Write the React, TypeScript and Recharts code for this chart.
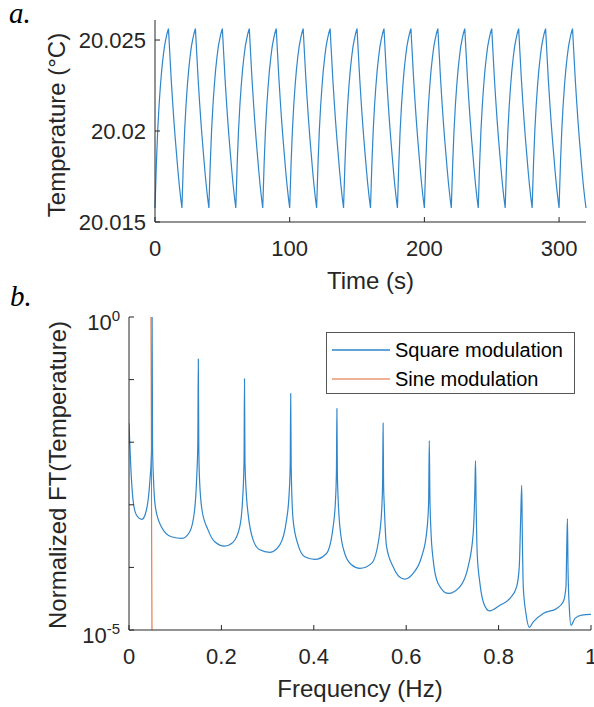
import React from 'react';
import { LineChart, Line, XAxis, YAxis, Legend } from 'recharts';

const FONT = '"Liberation Sans", Arial, sans-serif';
const AXIS = '#262626';
const BLUE = '#2f86cb';
const ORANGE = '#e2622a';

// panel a: one 20 s period of the trace (°C), 1 s steps
const cycleTemp = [
  20.01577, 20.01814, 20.02001, 20.02139, 20.02247, 20.02336, 20.02405, 20.02464, 20.02504, 20.02538,
  20.02563, 20.02425, 20.02287, 20.02169, 20.0206, 20.01962, 20.01873, 20.01784, 20.01705, 20.01636,
];
const periodCount = 16;
const timeTicks = [0, 100, 200, 300];
const tempTicks = [20.015, 20.02, 20.025];

// panel b: normalized FT of the square-modulated trace
const sqFreq = [
  0, 0.005, 0.0087, 0.016, 0.028, 0.0377, 0.0448, 0.049, 0.05, 0.051, 0.0528, 0.057, 0.07, 0.0918,
  0.115, 0.1315, 0.142, 0.1466, 0.149, 0.15, 0.151, 0.1524, 0.158, 0.171, 0.1856, 0.207, 0.225,
  0.2398, 0.246, 0.249, 0.25, 0.251, 0.2545, 0.2577, 0.2686, 0.283, 0.3047, 0.3264, 0.341, 0.3466,
  0.349, 0.35, 0.351, 0.3552, 0.366, 0.3805, 0.402, 0.4275, 0.4419, 0.447, 0.449, 0.45, 0.451,
  0.4564, 0.467, 0.4817, 0.4997, 0.525, 0.5415, 0.5473, 0.549, 0.55, 0.551, 0.5525, 0.5575, 0.5718,
  0.585, 0.597, 0.615, 0.6333, 0.644, 0.6485, 0.65, 0.6512, 0.6535, 0.6584, 0.669, 0.691, 0.716,
  0.734, 0.745, 0.7488, 0.75, 0.7512, 0.7537, 0.7596, 0.768, 0.78, 0.803, 0.8245, 0.839, 0.8447,
  0.8477, 0.85, 0.8512, 0.8534, 0.8592, 0.8664, 0.875, 0.8967, 0.9257, 0.94, 0.9458, 0.9473, 0.949,
  0.9502, 0.953, 0.9567, 0.9653, 0.98, 1,
];
const sqAmp = [
  2.01e-2, 2.82e-3, 1.2e-3, 6.87e-4, 5.86e-4, 8.26e-4, 2.21e-3, 8e-3, 1, 8e-3, 2.82e-3, 9.33e-4, 4.47e-4, 3.09e-4,
  2.91e-4, 3.72e-4, 8.26e-4, 2.82e-3, 1e-2, 0.213, 1e-2, 2.82e-3, 8.26e-4, 3.98e-4, 2.57e-4, 2.19e-4, 2.51e-4,
  4.47e-4, 1.26e-3, 5e-3, 0.103, 5e-3, 1.3e-3, 7.24e-4, 2.75e-4, 1.91e-4, 1.74e-4, 2.29e-4, 5.75e-4, 1.51e-3,
  4.5e-3, 0.06, 4e-3, 5.75e-4, 2.29e-4, 1.48e-4, 1.34e-4, 1.67e-4, 4.47e-4, 1.2e-3, 3.5e-3, 0.0345, 3e-3,
  4.47e-4, 1.67e-4, 1.1e-4, 9.64e-5, 1.16e-4, 3.09e-4, 9.33e-4, 2.5e-3, 0.0201, 2.2e-3, 1e-3, 2.14e-4, 1.02e-4,
  7.08e-5, 6.5e-5, 8.02e-5, 1.48e-4, 3.5e-4, 1.06e-3, 0.0106, 1.5e-3, 3.98e-4, 1.32e-4, 5.55e-5, 3.84e-5, 4.9e-5,
  1.02e-4, 3.5e-4, 1.95e-3, 5.08e-3, 1.2e-3, 1.67e-4, 5.55e-5, 2.65e-5, 2.02e-5, 2.49e-5, 3.19e-5, 4.9e-5, 1.02e-4,
  5.75e-4, 2.05e-3, 4e-4, 4.9e-5, 1.84e-5, 1.1e-5, 1.35e-5, 1.84e-5, 2.21e-5, 2.82e-5, 4.9e-5, 1.67e-4, 6e-4,
  1e-4, 2.34e-5, 1.19e-5, 1.53e-5, 1.73e-5, 1.78e-5,
];
// sine modulation: a single line at the drive frequency
const sineFreq = [0.0476, 0.0498];
const sineAmp = [1, 8e-6];
const freqTicks = [0, 0.2, 0.4, 0.6, 0.8, 1];
const ampTicks = [1e-5, 1e-4, 1e-3, 1e-2, 1e-1, 1];
const seriesNames = ['Square modulation', 'Sine modulation'];

const tempData: { t: number; temp: number }[] = [];
for (let p = 0; p < periodCount; p++) {
  cycleTemp.forEach((v, i) => tempData.push({ t: p * cycleTemp.length + i, temp: v }));
}
tempData.push({ t: periodCount * cycleTemp.length, temp: cycleTemp[0] });

const squareData = sqFreq.map((f, i) => ({ f, amp: sqAmp[i] }));
const sineData = sineFreq.map((f, i) => ({ f, amp: sineAmp[i] }));

const tickStyle = { fontSize: 22, fill: AXIS, fontFamily: FONT };

const PowerTick = (props: any) => {
  const { x, y, payload } = props;
  const exp = Math.round(Math.log10(payload.value));
  if (exp !== 0 && exp !== -5) return <g />;
  return (
    <text x={x} y={y + 13} textAnchor="end" fontSize={22} fill={AXIS} fontFamily={FONT}>
      10<tspan dy={-9} fontSize={15}>{String(exp)}</tspan>
    </text>
  );
};

const LegendBox = (props: any) => {
  const items = [...(props.payload || [])].sort(
    (a: any, b: any) => seriesNames.indexOf(a.value) - seriesNames.indexOf(b.value),
  );
  return (
    <div style={{
      position: 'relative', width: 249, height: 62, boxSizing: 'border-box', border: '1px solid #555',
      background: '#fff', fontFamily: FONT, fontSize: 20, color: '#000',
    }}>
      {items.map((item: any, i: number) => (
        <div key={item.value} style={{
          position: 'absolute', left: 5, top: 3 + i * 29, height: 28, display: 'flex', alignItems: 'center',
          whiteSpace: 'nowrap',
        }}>
          <svg width={58} height={4}>
            <line x1={0} x2={58} y1={2} y2={2} stroke={item.color} strokeWidth={i === 0 ? 1.6 : 1.1} />
          </svg>
          <span style={{ marginLeft: 5 }}>{item.value}</span>
        </div>
      ))}
    </div>
  );
};

export default function App() {
  return (
    <div style={{ position: 'absolute', left: 0, top: 0, width: 594, height: 707, background: '#fff' }}>
      <div style={{ position: 'absolute', left: 0, top: 0 }}>
        <LineChart width={594} height={300} data={tempData} margin={{ top: 20, right: 8, bottom: 0, left: 0 }}>
          <XAxis xAxisId="top" orientation="top" type="number" dataKey="t" domain={[0, 320]} ticks={timeTicks}
            tick={false} tickSize={-5} height={0} stroke={AXIS} interval={0} />
          <XAxis type="number" dataKey="t" domain={[0, 320]} ticks={timeTicks} tick={tickStyle} tickSize={-5}
            tickMargin={23} height={78} stroke={AXIS} interval={0} />
          <YAxis type="number" domain={[20.015, 20.0261]} ticks={tempTicks} tick={tickStyle} tickSize={-5}
            tickMargin={14} width={155} stroke={AXIS} interval={0} allowDataOverflow />
          <YAxis yAxisId="right" orientation="right" type="number" domain={[20.015, 20.0261]} ticks={tempTicks}
            tick={false} tickSize={-5} width={0} stroke={AXIS} interval={0} />
          <Line type="linear" dataKey="temp" stroke={BLUE} strokeWidth={1.2} dot={false} isAnimationActive={false} />
        </LineChart>
      </div>
      <div style={{ position: 'absolute', left: 0, top: 300 }}>
        <LineChart width={594} height={407} margin={{ top: 17, right: 3, bottom: 0, left: 0 }}>
          <XAxis xAxisId="top" orientation="top" type="number" dataKey="f" domain={[0, 1]} ticks={freqTicks}
            tick={false} tickSize={-5} height={0} stroke={AXIS} interval={0} />
          <XAxis type="number" dataKey="f" domain={[0, 1]} ticks={freqTicks} tick={tickStyle} tickSize={-5}
            tickMargin={23} height={77} stroke={AXIS} interval={0} allowDataOverflow />
          <YAxis type="number" scale="log" domain={[1e-5, 1]} ticks={ampTicks} tick={<PowerTick />} tickSize={-5}
            tickMargin={14} width={129} stroke={AXIS} interval={0} allowDataOverflow />
          <YAxis yAxisId="right" orientation="right" type="number" scale="log" domain={[1e-5, 1]} ticks={ampTicks}
            tick={false} tickSize={-5} width={0} stroke={AXIS} interval={0} allowDataOverflow />
          <Line data={squareData} type="monotone" dataKey="amp" name="Square modulation" stroke={BLUE}
            strokeWidth={1.2} dot={false} isAnimationActive={false} />
          <Line data={sineData} type="linear" dataKey="amp" name="Sine modulation" stroke={ORANGE}
            strokeWidth={1} dot={false} isAnimationActive={false} />
          <Legend layout="vertical" align="center" verticalAlign="middle" content={<LegendBox />}
            wrapperStyle={{ left: 326, top: 32, width: 249, height: 62 }} />
        </LineChart>
      </div>
      <svg width={594} height={707} style={{ position: 'absolute', left: 0, top: 0, pointerEvents: 'none' }}>
        <text x={9} y={23} fontSize={29} fontStyle="italic" fontFamily='"Liberation Serif", serif' fill="#000">a.</text>
        <text x={10} y={306} fontSize={29} fontStyle="italic" fontFamily='"Liberation Serif", serif' fill="#000">b.</text>
        <text transform="translate(64.5,125) rotate(-90)" textAnchor="middle" fontSize={24} fontFamily={FONT} fill={AXIS}>
          Temperature (°C)
        </text>
        <text x={370.5} y={288.5} textAnchor="middle" fontSize={24} fontFamily={FONT} fill={AXIS}>Time (s)</text>
        <text transform="translate(66,475) rotate(-90)" textAnchor="middle" fontSize={24} fontFamily={FONT} fill={AXIS}>
          Normalized FT(Temperature)
        </text>
        <text x={360} y={697} textAnchor="middle" fontSize={24} fontFamily={FONT} fill={AXIS}>Frequency (Hz)</text>
      </svg>
    </div>
  );
}
